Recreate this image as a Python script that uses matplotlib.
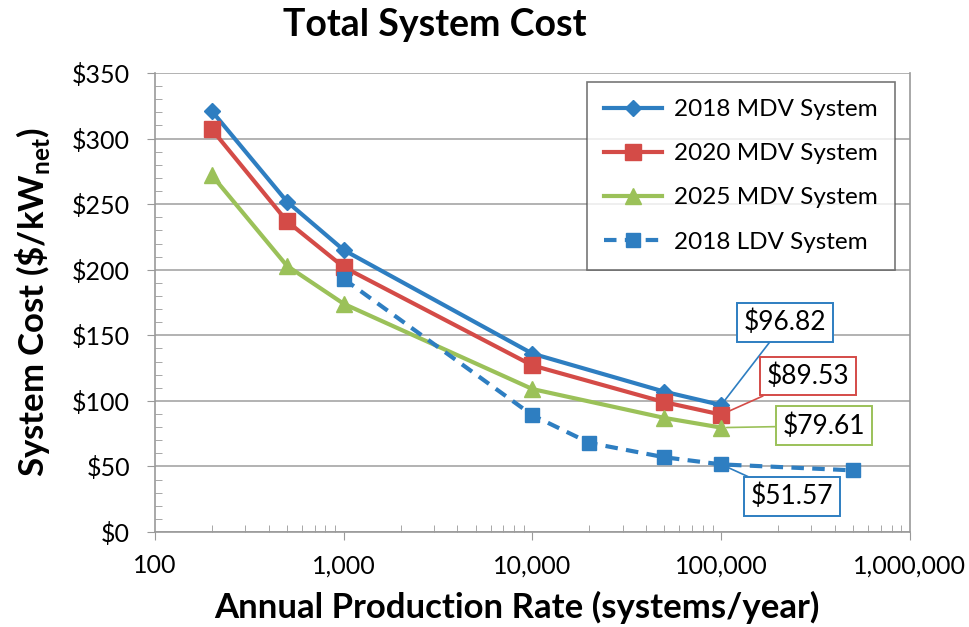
import numpy as np
import matplotlib.pyplot as plt
from matplotlib.ticker import FixedLocator, FuncFormatter, MultipleLocator, LogLocator

plt.rcParams['font.family'] = ['Lato', 'DejaVu Sans']
plt.rcParams['mathtext.fontset'] = 'custom'
plt.rcParams['mathtext.rm'] = 'Lato'
plt.rcParams['mathtext.bf'] = 'Lato:bold'

# data
x_mdv = [200, 500, 1000, 10000, 50000, 100000]
cost_2018_mdv = [321, 252, 215, 136, 107, 96.82]
cost_2020_mdv = [307, 237, 202, 127, 99, 89.53]
cost_2025_mdv = [272, 203, 174, 109, 87, 79.61]
x_ldv = [1000, 10000, 20000, 50000, 100000, 500000]
cost_2018_ldv = [193, 89, 68, 57, 51.57, 47]

blue = '#2E7EC1'
red = '#D44B47'
green = '#9BC159'

fig = plt.figure(figsize=(9.69, 6.27), dpi=100)
ax = fig.add_axes([0.16, 0.1515, 0.779, 0.732])

ax.plot(x_mdv, cost_2018_mdv, color=blue, lw=3, marker='D', ms=8, label='2018 MDV System')
ax.plot(x_mdv, cost_2020_mdv, color=red, lw=3, marker='s', ms=11, label='2020 MDV System')
ax.plot(x_mdv, cost_2025_mdv, color=green, lw=3, marker='^', ms=11, label='2025 MDV System')
ax.plot(x_ldv, cost_2018_ldv, color=blue, lw=3, ls=(0, (3, 2)), marker='s', ms=10, label='2018 LDV System')

ax.set_xscale('log')
ax.set_xlim(100, 1e6)
ax.set_ylim(0, 350)
ax.xaxis.set_major_locator(FixedLocator([100, 1000, 10000, 100000, 1000000]))
ax.xaxis.set_minor_locator(LogLocator(base=10, subs=np.arange(2, 10)))
ax.xaxis.set_major_formatter(FuncFormatter(lambda v, p: f'{int(v):,}'))
ax.yaxis.set_major_locator(MultipleLocator(50))
ax.yaxis.set_minor_locator(MultipleLocator(10))
ax.yaxis.set_major_formatter(FuncFormatter(lambda v, p: f'${int(v)}'))

ax.tick_params(axis='both', which='major', labelsize=18, color='#999999', length=6, direction='out')
ax.tick_params(axis='x', which='major', pad=10)
ax.tick_params(axis='y', which='major', pad=12)
ax.tick_params(axis='both', which='minor', direction='in', length=5, color='#999999')
ax.grid(axis='y', which='major', color='#a6a6a6', lw=1.2)
for s in ax.spines.values():
    s.set_color('#999999')
    s.set_linewidth(1.2)
ax.spines['top'].set_visible(False)

ax.set_title('Total System Cost', fontsize=27, fontweight='bold', x=0.37, pad=27)
ax.set_xlabel('Annual Production Rate (systems/year)', fontsize=25, fontweight='bold', labelpad=10, x=0.48)
ax.set_ylabel('System Cost (\\$/kW$_{\\mathbf{net}}$)', fontsize=25, fontweight='bold', labelpad=14)

leg = ax.legend(loc='upper right', bbox_to_anchor=(0.98, 0.98), fontsize=17.5, frameon=True,
                fancybox=False, edgecolor='#555555', handlelength=2.4, labelspacing=0.95,
                borderpad=0.7, handletextpad=0.5, borderaxespad=0)
leg.get_frame().set_linewidth(1.2)

# callouts for the 100k points
callouts = [
    (100000, cost_2018_mdv[-1], '$96.82', blue, (218000, 160)),
    (100000, cost_2020_mdv[-1], '$89.53', red, (288000, 119)),
    (100000, cost_2025_mdv[-1], '$79.61', green, (351000, 81)),
    (100000, cost_2018_ldv[4], '$51.57', blue, (237000, 27)),
]
for xv, yv, txt, col, pos in callouts:
    ax.annotate(txt, xy=(xv, yv), xytext=pos, fontsize=19, ha='center', va='center',
                bbox=dict(boxstyle='square,pad=0.25', fc='white', ec=col, lw=1.4),
                arrowprops=dict(arrowstyle='-', color=col, lw=1.2, shrinkA=0, shrinkB=4))

fig.savefig('out.png', dpi=100)
